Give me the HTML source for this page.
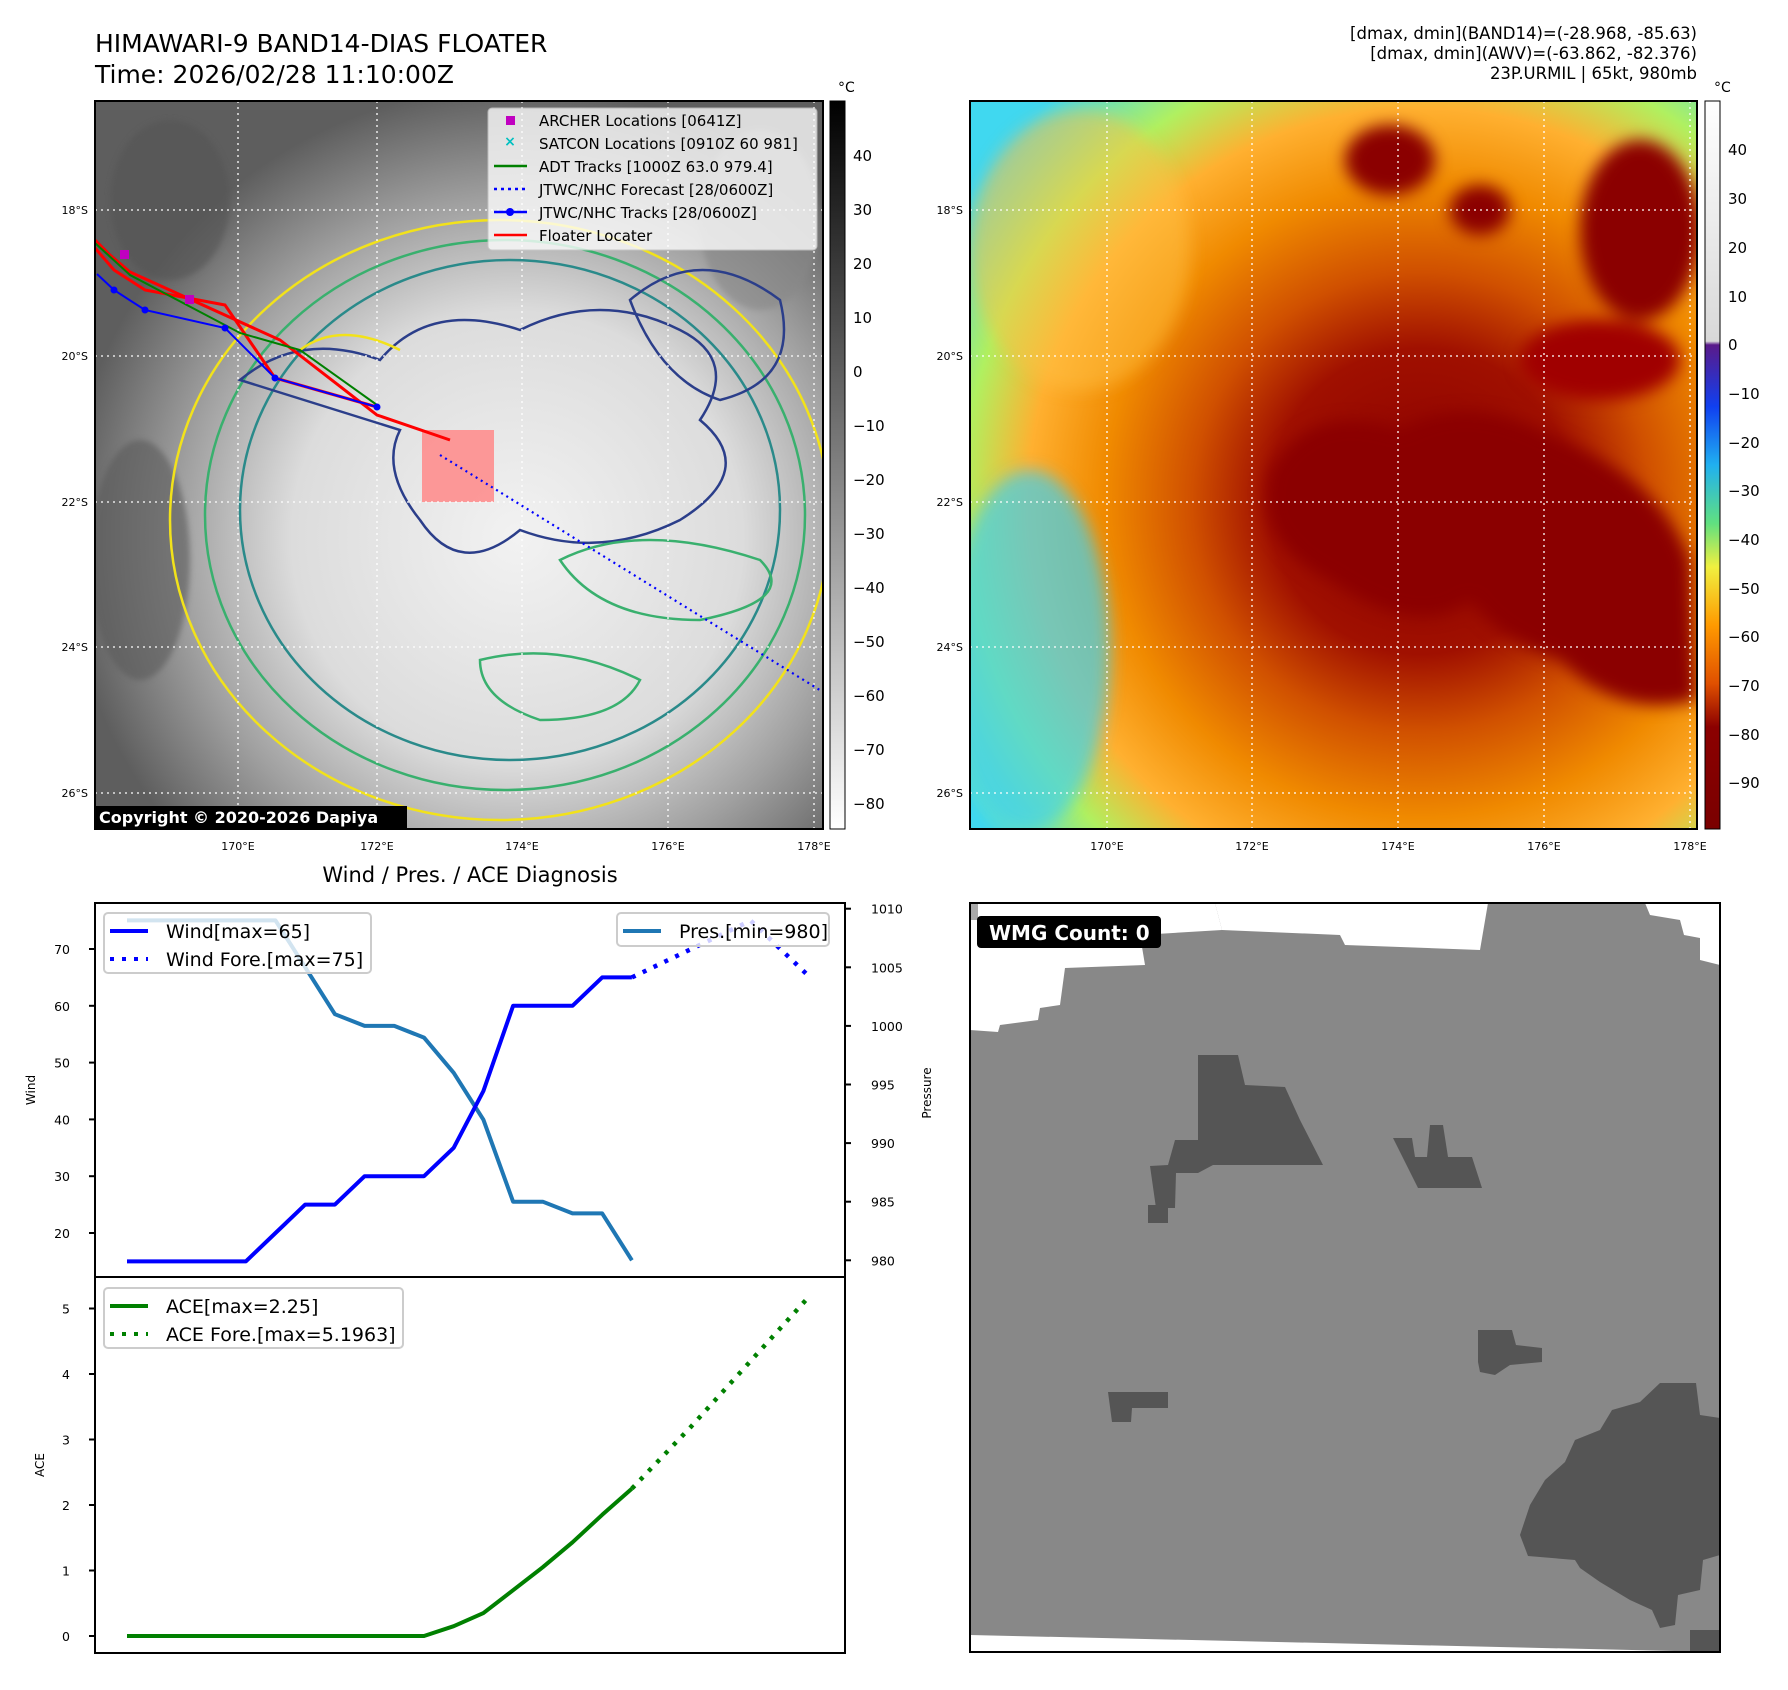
<!DOCTYPE html>
<html><head><meta charset="utf-8"><style>
html,body{margin:0;padding:0;background:#fff;}
svg{display:block;font-family:"DejaVu Sans","Liberation Sans",sans-serif;}
</style></head><body>
<svg id="fig" width="1788" height="1690" viewBox="0 0 1788 1690" xmlns="http://www.w3.org/2000/svg">
<defs>
<radialGradient id="irGrad" cx="0.58" cy="0.6" r="0.62">
<stop offset="0" stop-color="#f2f2f2"/><stop offset="0.5" stop-color="#dcdcdc"/><stop offset="0.75" stop-color="#a0a0a0"/><stop offset="1" stop-color="#5e5e5e"/>
</radialGradient>
<radialGradient id="bdGrad" cx="0.62" cy="0.55" r="0.75">
<stop offset="0" stop-color="#8b0000"/><stop offset="0.28" stop-color="#a01000"/><stop offset="0.42" stop-color="#d05000"/><stop offset="0.58" stop-color="#f08a00"/><stop offset="0.72" stop-color="#ffb030"/><stop offset="0.84" stop-color="#b0f060"/><stop offset="1" stop-color="#40d8f0"/>
</radialGradient>
<linearGradient id="cbGray" x1="0" y1="0" x2="0" y2="1"><stop offset="0" stop-color="#000"/><stop offset="1" stop-color="#fff"/></linearGradient>
<linearGradient id="cbBd" x1="0" y1="0" x2="0" y2="1">
<stop offset="0" stop-color="#ffffff"/><stop offset="0.33" stop-color="#d8d8d8"/><stop offset="0.335" stop-color="#5a1a8a"/><stop offset="0.42" stop-color="#1040f0"/><stop offset="0.5" stop-color="#20b0f0"/><stop offset="0.58" stop-color="#60e080"/><stop offset="0.64" stop-color="#f0f040"/><stop offset="0.72" stop-color="#ff9a00"/><stop offset="0.8" stop-color="#e05000"/><stop offset="0.86" stop-color="#8b0000"/><stop offset="1" stop-color="#7a0000"/>
</linearGradient>
<filter id="blur8"><feGaussianBlur stdDeviation="8"/></filter>
<filter id="blur3"><feGaussianBlur stdDeviation="3"/></filter>
<clipPath id="clipL"><rect x="95" y="101" width="728" height="728"/></clipPath>
<clipPath id="clipR"><rect x="970" y="101" width="727" height="728"/></clipPath>
<clipPath id="clipW"><rect x="970" y="903" width="750" height="749"/></clipPath>
</defs>

<!-- titles -->
<text x="95" y="52" font-size="25" fill="#000">HIMAWARI-9 BAND14-DIAS FLOATER</text>
<text x="95" y="83" font-size="25" fill="#000">Time: 2026/02/28 11:10:00Z</text>
<g font-size="16.5" text-anchor="end" fill="#000">
<text x="1697" y="39">[dmax, dmin](BAND14)=(-28.968, -85.63)</text>
<text x="1697" y="59">[dmax, dmin](AWV)=(-63.862, -82.376)</text>
<text x="1697" y="79">23P.URMIL | 65kt, 980mb</text>
</g>

<!-- LEFT MAP -->
<g>
<g clip-path="url(#clipL)">
<rect x="95" y="101" width="728" height="728" fill="url(#irGrad)"/>
<g filter="url(#blur3)" opacity="0.6">
<ellipse cx="170" cy="200" rx="60" ry="80" fill="#555"/>
<ellipse cx="140" cy="560" rx="50" ry="120" fill="#5a5a5a"/>
<ellipse cx="760" cy="220" rx="60" ry="90" fill="#888"/>
</g>
<g fill="none" stroke-width="2.5">
<ellipse cx="500" cy="520" rx="330" ry="300" stroke="#f2e21a"/>
<ellipse cx="505" cy="515" rx="300" ry="275" stroke="#39b06e"/>
<ellipse cx="510" cy="510" rx="270" ry="250" stroke="#2a8a8a"/>
<path d="M240,380 Q300,330 380,360 Q430,300 520,330 Q600,290 680,330 Q740,360 700,420 Q760,470 680,520 Q600,560 520,530 Q460,580 420,520 Q380,470 400,430 Z" stroke="#2b3e8a"/>
<path d="M630,300 Q700,240 780,300 Q800,380 720,400 Q660,380 630,300 Z" stroke="#2b3e8a"/>
<path d="M300,350 Q340,320 400,350" stroke="#f2e21a"/>
<path d="M560,560 Q640,520 760,560 Q800,600 700,620 Q600,620 560,560Z" stroke="#39b06e"/>
<path d="M480,660 Q560,640 640,680 Q620,720 540,720 Q480,700 480,660Z" stroke="#39b06e"/>
</g>
<rect x="422" y="430" width="72" height="72" fill="#f88" opacity="0.85"/>
<g stroke="#fff" stroke-width="1.3" stroke-dasharray="2,4">
<line x1="95" y1="210" x2="823" y2="210"/><line x1="95" y1="356" x2="823" y2="356"/><line x1="95" y1="502" x2="823" y2="502"/><line x1="95" y1="647" x2="823" y2="647"/><line x1="95" y1="793" x2="823" y2="793"/>
<line x1="238" y1="101" x2="238" y2="829"/><line x1="377" y1="101" x2="377" y2="829"/><line x1="522" y1="101" x2="522" y2="829"/><line x1="668" y1="101" x2="668" y2="829"/><line x1="814" y1="101" x2="814" y2="829"/>
</g>
<polyline points="95,248 114,270 145,290 225,305 275,378 377,407" fill="none" stroke="#ff0000" stroke-width="3"/>
<polyline points="95,240 110,255 130,272 280,340 377,415 450,440" fill="none" stroke="#ff0000" stroke-width="3"/>
<polyline points="95,243 130,275 240,333 300,350 377,405" fill="none" stroke="#008000" stroke-width="2"/>
<polyline points="97,274 114,290 145,310 225,328 275,378 377,407" fill="none" stroke="#0000ff" stroke-width="2"/>
<g fill="#0000ff"><circle cx="114" cy="290" r="3.5"/><circle cx="145" cy="310" r="3.5"/><circle cx="225" cy="328" r="3.5"/><circle cx="275" cy="378" r="3.5"/><circle cx="377" cy="407" r="3.5"/></g>
<line x1="440" y1="455" x2="823" y2="692" stroke="#0000ff" stroke-width="2.2" stroke-dasharray="2,4"/>
<rect x="120" y="250" width="9" height="9" fill="#c000c0"/>
<rect x="185" y="295" width="9" height="9" fill="#c000c0"/>
</g>
<rect x="95" y="101" width="728" height="728" fill="none" stroke="#000" stroke-width="2"/>
</g>
<g>
<rect x="488" y="108" width="329" height="142" rx="4" fill="#fff" opacity="0.78" stroke="#ccc"/>
<rect x="506" y="116" width="9" height="9" fill="#c000c0"/>
<text x="510" y="146" font-size="14" fill="#00c0c0" text-anchor="middle" font-weight="bold">×</text>
<line x1="494" y1="166" x2="527" y2="166" stroke="#008000" stroke-width="2.5"/>
<line x1="494" y1="189" x2="527" y2="189" stroke="#0000ff" stroke-width="2.5" stroke-dasharray="3,4"/>
<line x1="494" y1="212" x2="527" y2="212" stroke="#0000ff" stroke-width="2.5"/><circle cx="510" cy="212" r="4" fill="#0000ff"/>
<line x1="494" y1="235" x2="527" y2="235" stroke="#ff0000" stroke-width="2.5"/>
<g font-size="15" fill="#000">
<text x="539" y="126">ARCHER Locations [0641Z]</text>
<text x="539" y="149">SATCON Locations [0910Z 60 981]</text>
<text x="539" y="172">ADT Tracks [1000Z 63.0 979.4]</text>
<text x="539" y="195">JTWC/NHC Forecast [28/0600Z]</text>
<text x="539" y="218">JTWC/NHC Tracks [28/0600Z]</text>
<text x="539" y="241">Floater Locater</text>
</g>
</g>
<rect x="95" y="806" width="312" height="22" fill="#000"/>
<text x="99" y="823" font-size="16" font-weight="bold" fill="#fff">Copyright © 2020-2026 Dapiya</text>
<g font-size="11" fill="#000" text-anchor="end">
<text x="88" y="214">18°S</text><text x="88" y="360">20°S</text><text x="88" y="506">22°S</text><text x="88" y="651">24°S</text><text x="88" y="797">26°S</text>
</g>
<g font-size="11" fill="#000" text-anchor="middle">
<text x="238" y="850">170°E</text><text x="377" y="850">172°E</text><text x="522" y="850">174°E</text><text x="668" y="850">176°E</text><text x="814" y="850">178°E</text>
</g>
<g>
<rect x="830" y="101" width="15" height="728" fill="url(#cbGray)" stroke="#000" stroke-width="1"/>
<text x="838" y="92" font-size="14">°C</text>
<g font-size="15" fill="#000">
<text x="853" y="161">40</text><text x="853" y="215">30</text><text x="853" y="269">20</text><text x="853" y="323">10</text><text x="853" y="377">0</text><text x="853" y="431">−10</text><text x="853" y="485">−20</text><text x="853" y="539">−30</text><text x="853" y="593">−40</text><text x="853" y="647">−50</text><text x="853" y="701">−60</text><text x="853" y="755">−70</text><text x="853" y="809">−80</text>
</g>
</g>

<!-- RIGHT MAP -->
<g>
<g clip-path="url(#clipR)">
<rect x="970" y="101" width="727" height="728" fill="url(#bdGrad)"/>
<g filter="url(#blur8)">
<path d="M1270,470 Q1310,400 1400,430 Q1470,390 1560,440 Q1660,480 1690,560 L1697,700 Q1620,720 1560,660 Q1500,640 1470,600 Q1420,640 1330,580 Q1250,540 1270,470Z" fill="#8b0000"/>
<ellipse cx="1640" cy="230" rx="60" ry="90" fill="#8b0000"/>
<ellipse cx="1390" cy="160" rx="45" ry="35" fill="#8b0000"/>
<ellipse cx="1480" cy="210" rx="30" ry="25" fill="#8b0000"/>
<ellipse cx="1600" cy="360" rx="80" ry="40" fill="#a00000"/>
<ellipse cx="1080" cy="250" rx="110" ry="140" fill="#ffc040" opacity="0.5"/>
<ellipse cx="1030" cy="650" rx="80" ry="180" fill="#40d0f0" opacity="0.7"/>
</g>
<g stroke="#fff" stroke-width="1.3" stroke-dasharray="2,4">
<line x1="970" y1="210" x2="1697" y2="210"/><line x1="970" y1="356" x2="1697" y2="356"/><line x1="970" y1="502" x2="1697" y2="502"/><line x1="970" y1="647" x2="1697" y2="647"/><line x1="970" y1="793" x2="1697" y2="793"/>
<line x1="1107" y1="101" x2="1107" y2="829"/><line x1="1252" y1="101" x2="1252" y2="829"/><line x1="1398" y1="101" x2="1398" y2="829"/><line x1="1544" y1="101" x2="1544" y2="829"/><line x1="1690" y1="101" x2="1690" y2="829"/>
</g>
</g>
<rect x="970" y="101" width="727" height="728" fill="none" stroke="#000" stroke-width="2"/>
</g>
<g font-size="11" fill="#000" text-anchor="end">
<text x="963" y="214">18°S</text><text x="963" y="360">20°S</text><text x="963" y="506">22°S</text><text x="963" y="651">24°S</text><text x="963" y="797">26°S</text>
</g>
<g font-size="11" fill="#000" text-anchor="middle">
<text x="1107" y="850">170°E</text><text x="1252" y="850">172°E</text><text x="1398" y="850">174°E</text><text x="1544" y="850">176°E</text><text x="1690" y="850">178°E</text>
</g>
<g>
<rect x="1705" y="101" width="15" height="728" fill="url(#cbBd)" stroke="#000" stroke-width="1"/>
<text x="1714" y="92" font-size="14">°C</text>
<g font-size="15" fill="#000">
<text x="1728" y="155">40</text><text x="1728" y="204">30</text><text x="1728" y="253">20</text><text x="1728" y="302">10</text><text x="1728" y="350">0</text><text x="1728" y="399">−10</text><text x="1728" y="448">−20</text><text x="1728" y="496">−30</text><text x="1728" y="545">−40</text><text x="1728" y="594">−50</text><text x="1728" y="642">−60</text><text x="1728" y="691">−70</text><text x="1728" y="740">−80</text><text x="1728" y="788">−90</text>
</g>
</g>

<!-- DIAGNOSIS CHART -->
<text x="470" y="882" font-size="21" text-anchor="middle" fill="#000">Wind / Pres. / ACE Diagnosis</text>
<g id="diag"></g>

<!-- WMG PANEL -->
<g>
<g clip-path="url(#clipW)">
<rect x="970" y="903" width="750" height="749" fill="#888"/>
<polygon points="970,903 1215,903 1222,930 1340,935 1345,945 1480,950 1488,903 1645,903 1650,915 1680,920 1684,935 1700,938 1700,960 1720,965 1720,903 1720,903" fill="#fff"/>
<polygon points="970,903 1215,903 1222,930 1140,935 1145,965 1065,968 1060,1005 1040,1008 1038,1020 1000,1025 998,1032 970,1030" fill="#fff"/>
<polygon points="970,1635 1720,1652 970,1652" fill="#fff"/>
<g fill="#555">
<polygon points="1198,1055 1238,1055 1245,1085 1285,1087 1300,1120 1323,1165 1213,1165 1198,1173 1176,1173 1175,1208 1156,1208 1150,1166 1168,1165 1175,1140 1198,1140"/>
<polygon points="1393,1138 1412,1138 1415,1157 1427,1157 1430,1125 1443,1125 1448,1157 1472,1157 1482,1188 1418,1188"/>
<rect x="1148" y="1205" width="20" height="18"/>
<polygon points="1478,1330 1512,1330 1516,1345 1542,1348 1542,1362 1510,1365 1495,1375 1480,1372 1478,1362 1478,1345"/>
<polygon points="1108,1392 1168,1392 1168,1408 1132,1408 1131,1422 1112,1422"/>
<polygon points="1660,1383 1696,1383 1700,1415 1720,1418 1720,1555 1703,1560 1700,1590 1678,1595 1675,1625 1660,1628 1652,1610 1630,1600 1600,1582 1580,1568 1575,1560 1528,1556 1520,1535 1530,1505 1545,1480 1565,1462 1575,1440 1600,1430 1612,1410 1640,1402"/>
<rect x="1690" y="1630" width="30" height="22"/>
</g>
<polygon points="970,903 978,903 978,920 970,920" fill="#aaa"/>
</g>
<rect x="977" y="916" width="184" height="32" rx="4" fill="#000"/>
<text x="989" y="940" font-size="20" font-weight="bold" fill="#fff">WMG Count: 0</text>
<rect x="970" y="903" width="750" height="749" fill="none" stroke="#000" stroke-width="2"/>
</g>

<script>
// ---- chart data ----
const steps = [0,1,2,3,4,5,6,7,8,9,10,11,12,13,14,15,16,17];
const windObs = [15,15,15,15,15,20,25,25,30,30,30,35,45,60,60,60,65,65];
const presObs = [1009,1009,1009,1009,1009,1009,1005,1001,1000,1000,999,996,992,985,985,984,984,980];
const aceObs = [0,0,0,0,0,0,0,0,0,0,0,0.15,0.35,0.7,1.05,1.43,1.85,2.25];
const foreSteps = [17,19,21,23];
const windFore = [65,70,75,65];
const aceFore = [2.25,3.2,4.2,5.2];
const windTicks = [20,30,40,50,60,70];
const presTicks = [980,985,990,995,1000,1005,1010];
const aceTicks = [0,1,2,3,4,5];

const NS = "http://www.w3.org/2000/svg";
const g = document.getElementById('diag');
const X = i => 127 + i * 29.7;
const yWind = v => 949 - (v - 70) * 5.68;
const yPres = v => 908.7 - (v - 1010) * 11.72;
const yAce = v => 1636 - v * 65.5;
function mk(tag, attrs){ const e = document.createElementNS(NS, tag); for (const k in attrs) e.setAttribute(k, attrs[k]); g.appendChild(e); return e; }
function line(xs, vals, fy, color, w, dash){
  const pts = xs.map((s,i)=> X(s).toFixed(1)+','+fy(vals[i]).toFixed(1)).join(' ');
  const a = {points: pts, fill:'none', stroke: color, 'stroke-width': w, 'stroke-linejoin':'round'};
  if (dash) a['stroke-dasharray'] = dash;
  return mk('polyline', a);
}
let el = mk('rect',{x:95,y:903,width:750,height:374,fill:'none',stroke:'#000','stroke-width':2});


el = mk('rect',{x:95,y:1277,width:750,height:376,fill:'none',stroke:'#000','stroke-width':2});


windTicks.forEach(v=>{
  mk('line',{x1:89,x2:95,y1:yWind(v),y2:yWind(v),stroke:'#000','stroke-width':2});
  const t = mk('text',{x:70,y:yWind(v)+5,'font-size':12.5,'text-anchor':'end'}); t.textContent = v;
  
  
});
presTicks.forEach(v=>{
  mk('line',{x1:845,x2:851,y1:yPres(v),y2:yPres(v),stroke:'#000','stroke-width':2});
  const t = mk('text',{x:871,y:yPres(v)+5,'font-size':12.5}); t.textContent = v;
  
  
});
aceTicks.forEach(v=>{
  mk('line',{x1:89,x2:95,y1:yAce(v),y2:yAce(v),stroke:'#000','stroke-width':2});
  const t = mk('text',{x:70,y:yAce(v)+5,'font-size':12.5,'text-anchor':'end'}); t.textContent = v;
  
  
});
let lab = mk('text',{x:0,y:0,'font-size':12,'text-anchor':'middle',transform:'translate(35,1090) rotate(-90)'}); lab.textContent='Wind';


lab = mk('text',{x:0,y:0,'font-size':12,'text-anchor':'middle',transform:'translate(931,1093) rotate(-90)'}); lab.textContent='Pressure';


lab = mk('text',{x:0,y:0,'font-size':12,'text-anchor':'middle',transform:'translate(44,1465) rotate(-90)'}); lab.textContent='ACE';


let s = line(steps, presObs, yPres, '#1f77b4', 4);


s = line(steps, windObs, yWind, '#0000ff', 4);


s = line(foreSteps, windFore, yWind, '#0000ff', 4.5, '4,8');


s = line(steps, aceObs, yAce, '#008000', 4);


s = line(foreSteps, aceFore, yAce, '#008000', 4.5, '4,8');


function legend(x,y,w,h,entries,name){
  const r = mk('rect',{x:x,y:y,width:w,height:h,rx:4,fill:'#fff','fill-opacity':0.8,stroke:'#ccc','stroke-width':2});
  
  
  entries.forEach((e,i)=>{
    const yy = y + 18 + i*28;
    const a = {x1:x+6,x2:x+44,y1:yy,y2:yy,stroke:e[1],'stroke-width':4};
    if (e[2]) a['stroke-dasharray']='4,8';
    mk('line',a);
    const t = mk('text',{x:x+62,y:yy+7,'font-size':19}); t.textContent = e[0];
    
    
  });
}
legend(104,913,267,60,[['Wind[max=65]','#0000ff',false],['Wind Fore.[max=75]','#0000ff',true]],'wind-legend');
legend(617,913,212,33,[['Pres.[min=980]','#1f77b4',false]],'pressure-legend');
legend(104,1288,299,60,[['ACE[max=2.25]','#008000',false],['ACE Fore.[max=5.1963]','#008000',true]],'ace-legend');
</script>
</svg>
</body></html>
